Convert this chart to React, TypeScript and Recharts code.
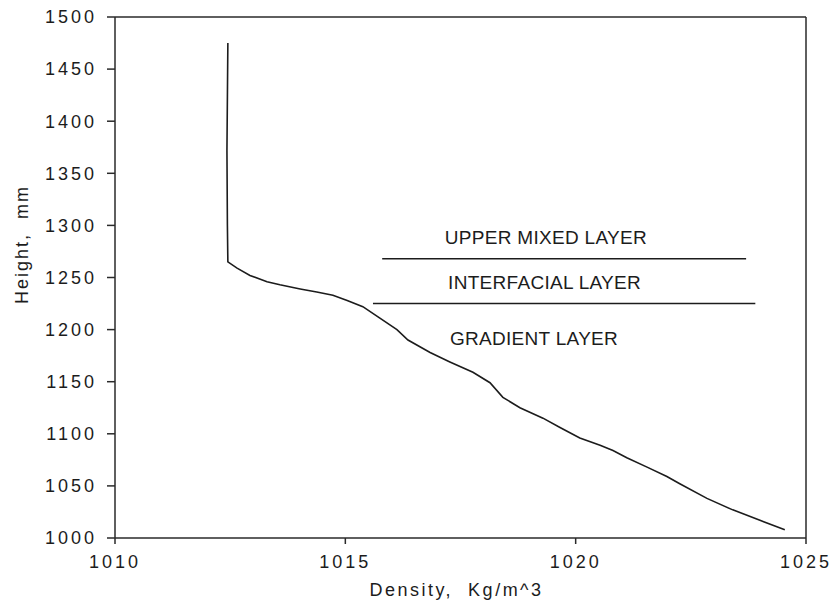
import React from 'react';
import { LineChart, Line, XAxis, YAxis, ReferenceLine, ReferenceDot, Label } from 'recharts';

// density profile, read top to bottom
const density = [
  1012.45, 1012.43, 1012.44, 1012.45, 1012.65, 1012.93, 1013.3, 1013.58, 1014.02, 1014.38,
  1014.73, 1015.04, 1015.38, 1015.75, 1016.12, 1016.36, 1016.84, 1017.27, 1017.77, 1018.14,
  1018.42, 1018.79, 1019.29, 1019.66, 1020.09, 1020.53, 1020.81, 1021.11, 1021.55, 1021.98,
  1022.26, 1022.85, 1023.41, 1024.0, 1024.54,
];
const height = [
  1475, 1372, 1300, 1265, 1259, 1252, 1246, 1243, 1239, 1236,
  1233, 1228, 1222, 1211, 1200, 1190, 1178, 1169, 1159, 1149,
  1135, 1125, 1115, 1106, 1096, 1089, 1084, 1077, 1068, 1059,
  1052, 1038, 1027, 1017, 1008,
];

const xTicks = [1010, 1015, 1020, 1025];
const yTicks = [1000, 1050, 1100, 1150, 1200, 1250, 1300, 1350, 1400, 1450, 1500];

// layer boundaries: height and density extent
const boundaryHeight = [1268, 1225];
const boundaryFrom = [1015.8, 1015.6];
const boundaryTo = [1023.7, 1023.9];

// layer names with the point their text starts at
const layerNames = ['UPPER MIXED LAYER', 'INTERFACIAL LAYER', 'GRADIENT LAYER'];
const layerNameX = [1017.16, 1017.23, 1017.27];
const layerNameY = [1288.6, 1245.4, 1191.8];

const profile = density.map((d, i) => ({ d, h: height[i] }));

const FONT = '"Liberation Sans", Arial, sans-serif';
const INK = '#1c1c1c';
const AXIS = '#2a2a2a';

const App: React.FC = () => {
  return (
    <div style={{ position: 'absolute', left: 0, top: 0, background: '#fff' }}>
      <LineChart
        width={836}
        height={611}
        data={profile}
        margin={{ top: 17, right: 30, bottom: 0, left: 0 }}
      >
        <XAxis
          dataKey="d"
          type="number"
          domain={[1010, 1025]}
          ticks={xTicks}
          allowDataOverflow
          height={73}
          stroke={AXIS}
          strokeWidth={1.5}
          tickSize={6}
          tickMargin={11}
          tick={{ fill: INK, fontSize: 18, fontFamily: FONT, letterSpacing: 3 }}
        >
          <Label
            content={({ viewBox }: any) => (
              <text
                x={viewBox.x + viewBox.width / 2 - 4}
                y={viewBox.y + 52}
                textAnchor="middle"
                dominantBaseline="central"
                fill={INK}
                fontSize={18}
                fontFamily={FONT}
                letterSpacing={2.5}
              >
                {'Density,\u00a0\u00a0Kg/m^3'}
              </text>
            )}
          />
        </XAxis>
        <YAxis
          dataKey="h"
          type="number"
          domain={[1000, 1500]}
          ticks={yTicks}
          allowDataOverflow
          width={115}
          stroke={AXIS}
          strokeWidth={1.5}
          tickSize={8}
          tickMargin={10}
          tick={{ fill: INK, fontSize: 18, fontFamily: FONT, letterSpacing: 3 }}
        >
          <Label
            content={({ viewBox }: any) => {
              const cx = viewBox.x + 22;
              const cy = viewBox.y + viewBox.height / 2 - 33;
              return (
                <text
                  x={cx}
                  y={cy}
                  transform={`rotate(-90 ${cx} ${cy})`}
                  textAnchor="middle"
                  dominantBaseline="central"
                  fill={INK}
                  fontSize={18}
                  fontFamily={FONT}
                  letterSpacing={2}
                >
                  {'Height,\u00a0\u00a0mm'}
                </text>
              );
            }}
          />
        </YAxis>

        {/* top and right edges of the frame */}
        <ReferenceLine y={1500} stroke={AXIS} strokeWidth={1.5} />
        <ReferenceLine x={1025} stroke={AXIS} strokeWidth={1.5} />

        {boundaryHeight.map((h, i) => (
          <ReferenceLine
            key={`b${i}`}
            segment={[
              { x: boundaryFrom[i], y: h },
              { x: boundaryTo[i], y: h },
            ]}
            stroke={INK}
            strokeWidth={1.4}
          />
        ))}

        {layerNames.map((name, i) => (
          <ReferenceDot
            key={`n${i}`}
            x={layerNameX[i]}
            y={layerNameY[i]}
            r={0}
            stroke="none"
            fill="none"
            label={{
              value: name,
              position: 'right',
              offset: 0,
              fill: INK,
              fontSize: 19,
              fontFamily: FONT,
              letterSpacing: 0.3,
            }}
          />
        ))}

        <Line
          dataKey="h"
          type="linear"
          stroke={INK}
          strokeWidth={1.6}
          dot={false}
          activeDot={false}
          isAnimationActive={false}
        />
      </LineChart>
    </div>
  );
};

export default App;
